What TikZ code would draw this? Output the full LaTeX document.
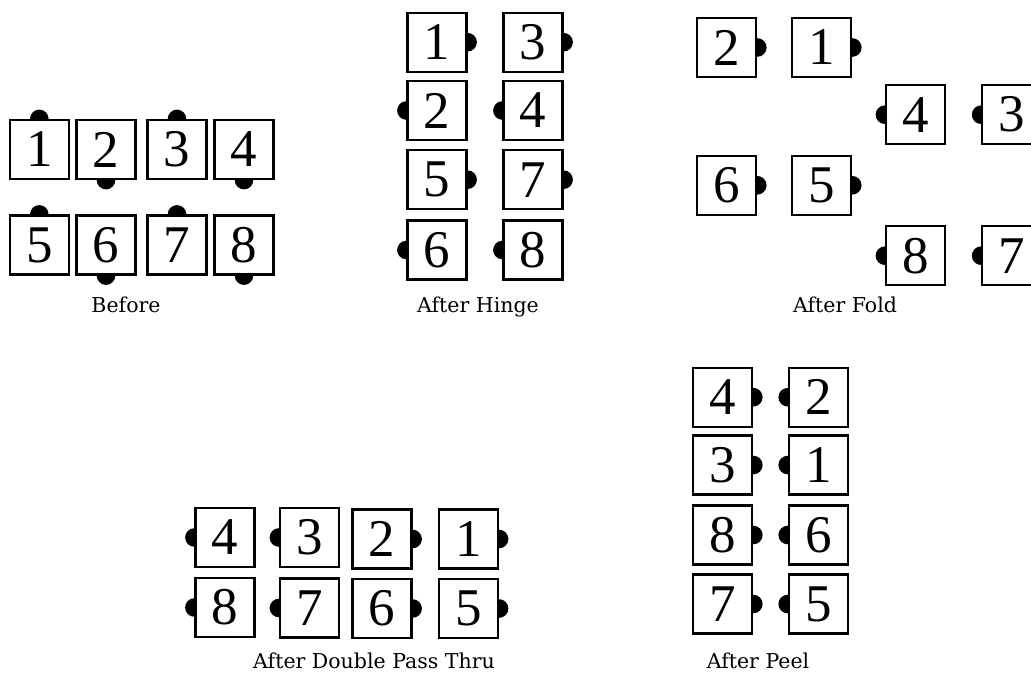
\documentclass[tikz,border=0pt]{standalone}
\usepackage{fontspec}
\setmainfont{Liberation Serif}
\newfontfamily\digfont{Liberation Serif}
\newfontfamily\labfont{DejaVu Serif}
\usetikzlibrary{backgrounds}
\tikzset{
  card/.style={draw=black, line width=2.2pt, fill=white, minimum width=59pt, minimum height=59pt, inner sep=0pt, font=\digfont\fontsize{53}{53}\selectfont},
  dot/.style={fill=black},
  cap label/.style={anchor=base, inner sep=0pt, font=\labfont\fontsize{20.5}{20.5}\selectfont}
}
\newcommand{\dotat}[1]{\fill[dot] (#1) circle (9.3pt);}
\begin{document}
\begin{tikzpicture}[x=1pt,y=-1pt]
\useasboundingbox (0,0) rectangle (1031,673);
% ---------- Before ----------
\node[card] (b1) at (39.3,149.5) {1};
\node[card] (b2) at (106,149.5) {2};
\node[card] (b3) at (177,149.5) {3};
\node[card] (b4) at (244,149.5) {4};
\node[card] (b5) at (39.3,245) {5};
\node[card] (b6) at (106,245) {6};
\node[card] (b7) at (177,245) {7};
\node[card] (b8) at (244,245) {8};
\node[cap label] (lb) at (126,312) {Before};
% ---------- After Hinge ----------
\node[card] (h1) at (437,42.2) {1};
\node[card] (h3) at (533,42.2) {3};
\node[card] (h2) at (437,110.5) {2};
\node[card] (h4) at (533,110.5) {4};
\node[card] (h5) at (437,179.7) {5};
\node[card] (h7) at (533,179.7) {7};
\node[card] (h6) at (437,250) {6};
\node[card] (h8) at (533,250) {8};
\node[cap label] (lh) at (478,312) {After Hinge};
% ---------- After Fold ----------
\node[card] (f2) at (726.7,47.5) {2};
\node[card] (f1) at (821.7,47.5) {1};
\node[card] (f4) at (915.5,114.7) {4};
\node[card] (f3) at (1011.7,114.7) {3};
\node[card] (f6) at (726.7,185.3) {6};
\node[card] (f5) at (821.7,185.3) {5};
\node[card] (f8) at (915.5,255.7) {8};
\node[card] (f7) at (1011.7,255.7) {7};
\node[cap label] (lf) at (845,312) {After Fold};
% ---------- After Double Pass Thru ----------
\node[card] (d4) at (225,537.5) {4};
\node[card] (d3) at (309.5,537.5) {3};
\node[card] (d2) at (382,539) {2};
\node[card] (d1) at (468.5,539) {1};
\node[card] (d8) at (225,607.5) {8};
\node[card] (d7) at (309.5,608) {7};
\node[card] (d6) at (382,608.5) {6};
\node[card] (d5) at (468.5,608.5) {5};
\node[cap label] (ld) at (374,668) {After Double Pass Thru};
% ---------- After Peel ----------
\node[card] (p4) at (722.7,397.2) {4};
\node[card] (p2) at (818.3,397.2) {2};
\node[card] (p3) at (722.7,465) {3};
\node[card] (p1) at (818.3,465) {1};
\node[card] (p8) at (722.7,535) {8};
\node[card] (p6) at (818.3,535) {6};
\node[card] (p7) at (722.7,604) {7};
\node[card] (p5) at (818.3,604) {5};
\node[cap label] (lp) at (758,668) {After Peel};
% ---------- dots (behind cards) ----------
\begin{scope}[on background layer]
\dotat{b1.north}\dotat{b2.south}\dotat{b3.north}\dotat{b4.south}
\dotat{b5.north}\dotat{b6.south}\dotat{b7.north}\dotat{b8.south}
\dotat{h1.east}\dotat{h3.east}\dotat{h2.west}\dotat{h4.west}
\dotat{h5.east}\dotat{h7.east}\dotat{h6.west}\dotat{h8.west}
\dotat{f2.east}\dotat{f1.east}\dotat{f4.west}\dotat{f3.west}
\dotat{f6.east}\dotat{f5.east}\dotat{f8.west}\dotat{f7.west}
\dotat{d4.west}\dotat{d3.west}\dotat{d2.east}\dotat{d1.east}
\dotat{d8.west}\dotat{d7.west}\dotat{d6.east}\dotat{d5.east}
\dotat{p4.east}\dotat{p2.west}\dotat{p3.east}\dotat{p1.west}
\dotat{p8.east}\dotat{p6.west}\dotat{p7.east}\dotat{p5.west}
\end{scope}
\end{tikzpicture}
\end{document}
